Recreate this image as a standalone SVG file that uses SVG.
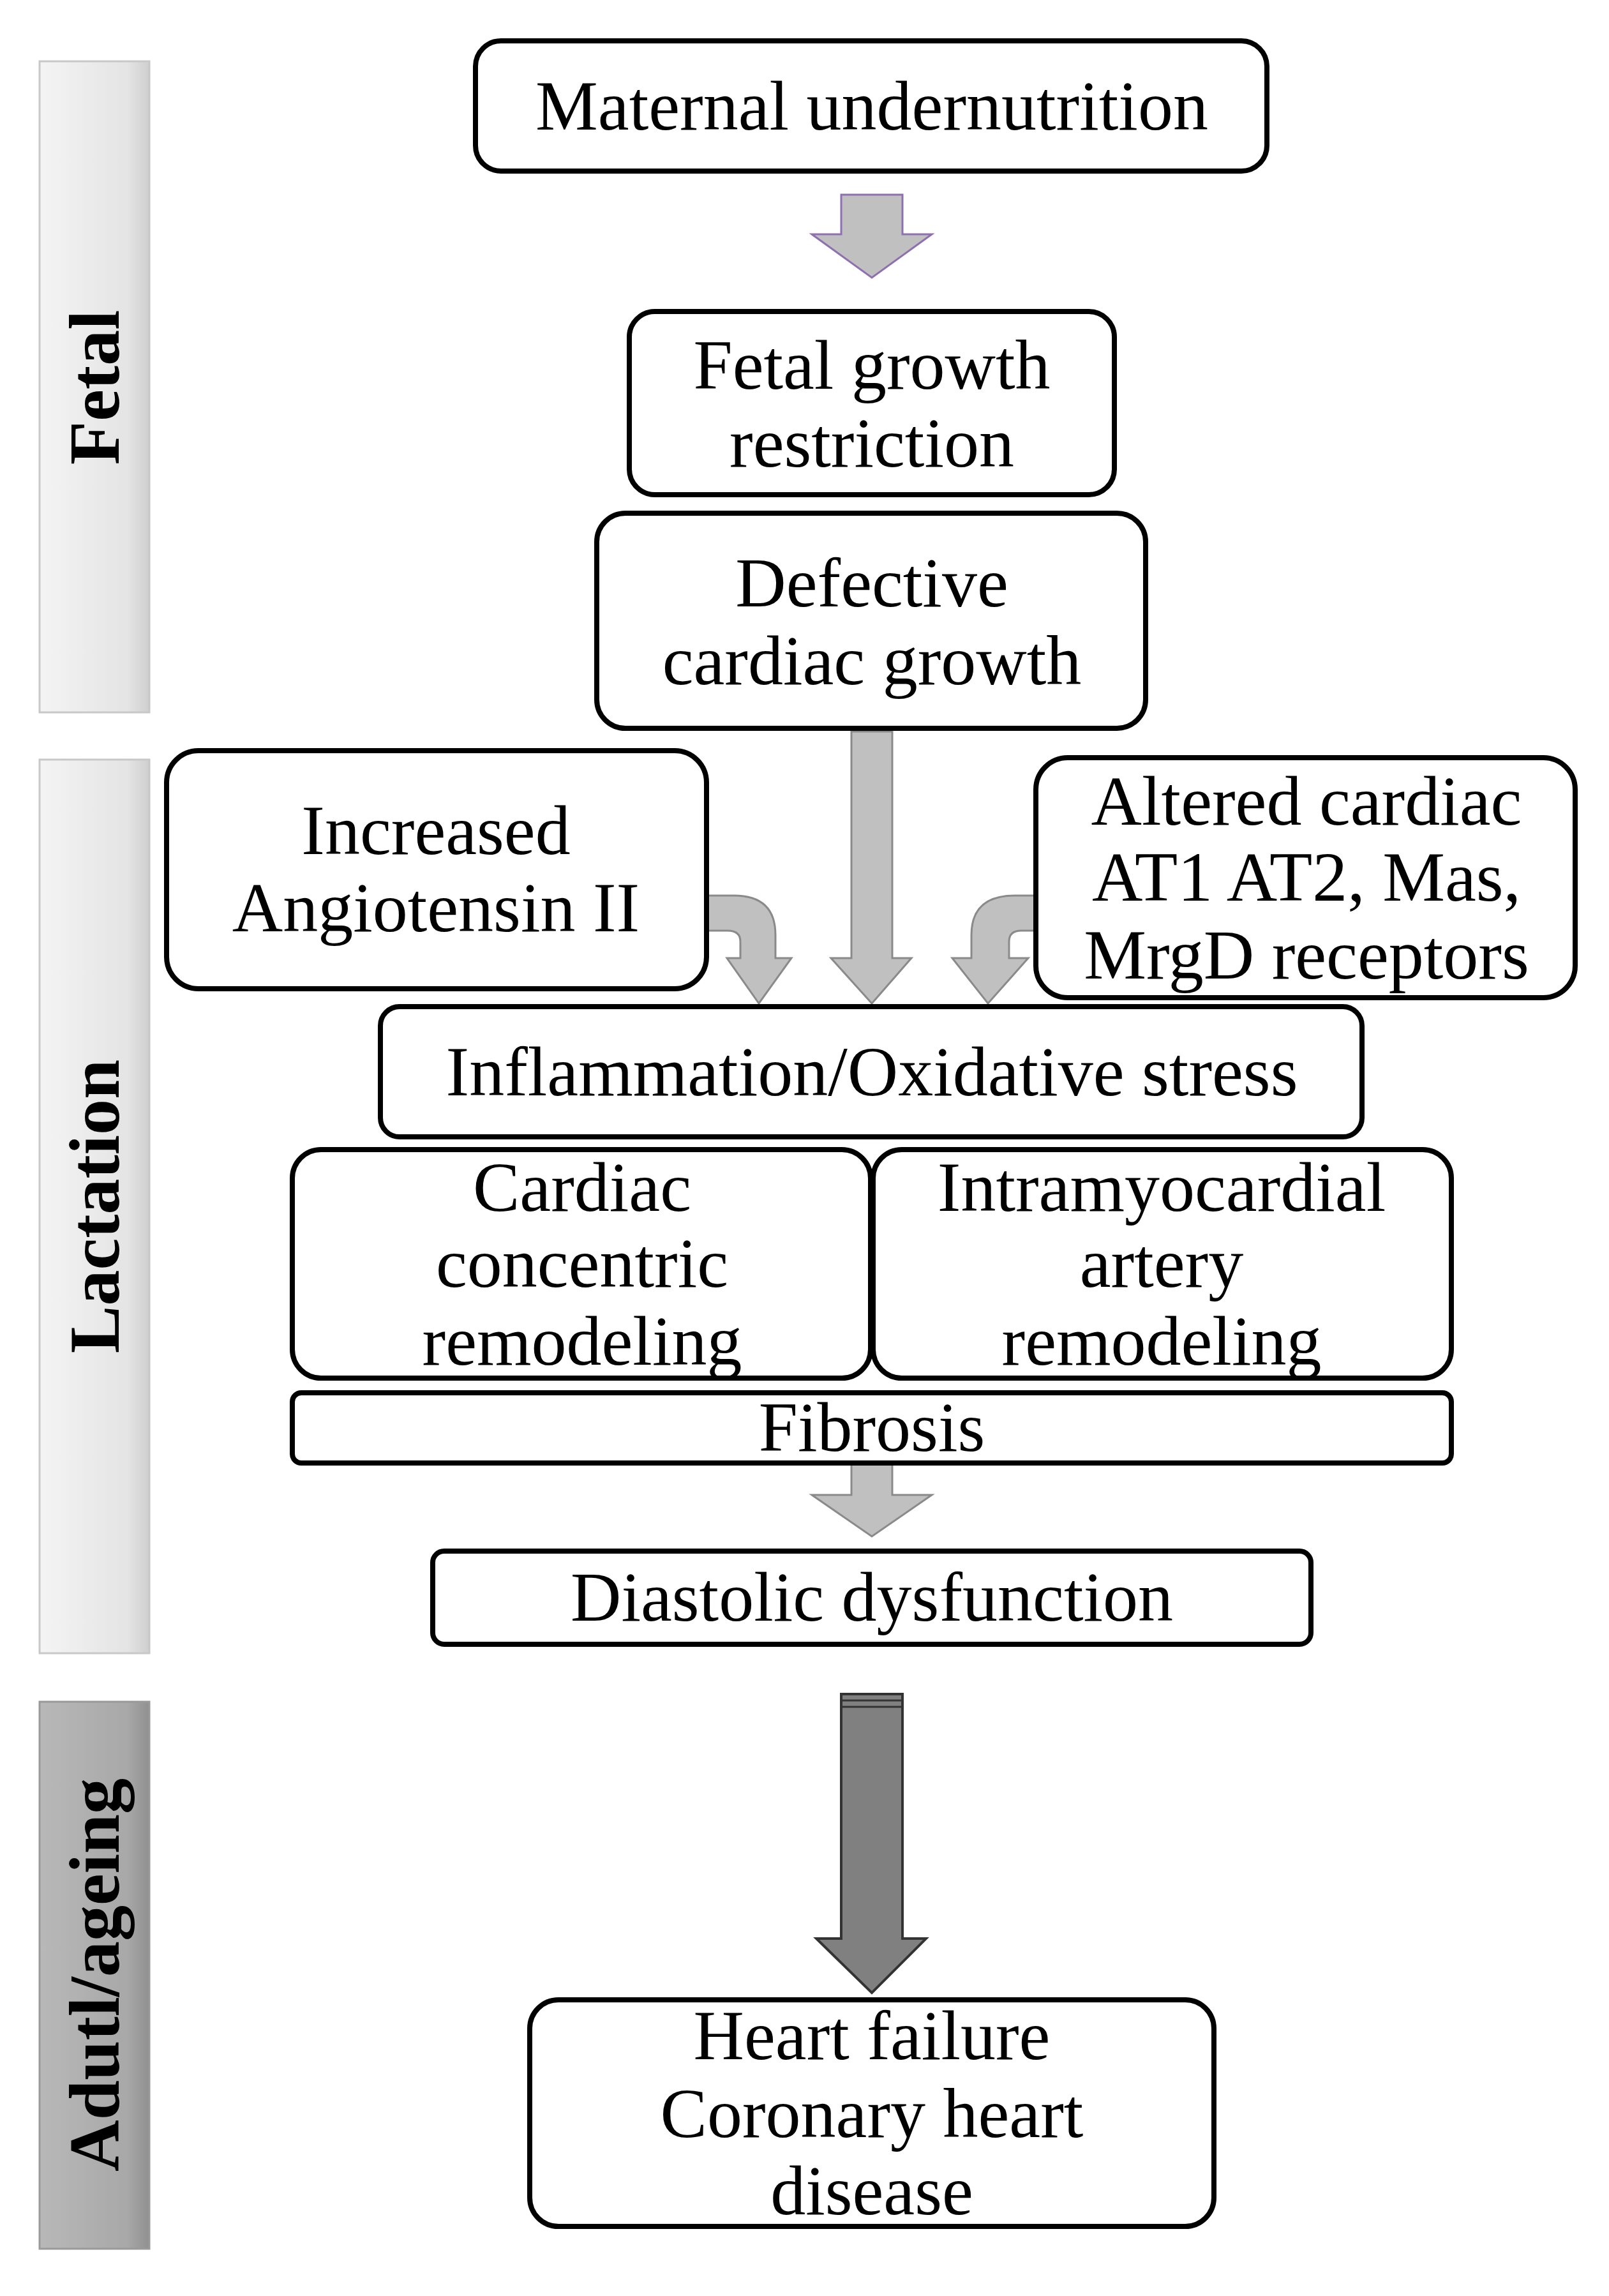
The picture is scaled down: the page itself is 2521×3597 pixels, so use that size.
<svg xmlns="http://www.w3.org/2000/svg" width="2521" height="3597" viewBox="0 0 2521 3597">
<defs>
<linearGradient id="bar" x1="0" y1="0" x2="1" y2="0"><stop offset="0" stop-color="#f4f4f4"/><stop offset="0.8" stop-color="#e4e4e4"/><stop offset="1" stop-color="#cfcfcf"/></linearGradient>
<linearGradient id="bar2" x1="0" y1="0" x2="1" y2="0"><stop offset="0" stop-color="#b8b8b8"/><stop offset="0.8" stop-color="#a8a8a8"/><stop offset="1" stop-color="#909090"/></linearGradient>
</defs>
<style>
.b{fill:#fff;stroke:#000;stroke-width:8}
.t{font-family:"Liberation Serif","DejaVu Serif",serif;font-size:110px;text-anchor:middle;fill:#000}
.s{font-family:"Liberation Serif","DejaVu Serif",serif;font-size:112px;font-weight:bold;text-anchor:middle;fill:#000}
.ar{fill:#c0c0c0;stroke:#8a8a8a;stroke-width:3}
</style>
<rect width="2521" height="3597" fill="#fff"/>
<g id="phases">
<rect x="62" y="96" width="172" height="1020" fill="url(#bar)" stroke="#c8c8c8" stroke-width="3"/>
<text class="s" transform="translate(186,607) rotate(-90)">Fetal</text>
<rect x="62" y="1190" width="172" height="1400" fill="url(#bar)" stroke="#c8c8c8" stroke-width="3"/>
<text class="s" transform="translate(186,1890) rotate(-90)">Lactation</text>
<rect x="62" y="2666" width="172" height="857" fill="url(#bar2)" stroke="#999" stroke-width="3"/>
<text class="s" transform="translate(186,3094) rotate(-90)">Adutl/ageing</text>
</g>
<g id="connectors">
<path d="M1318,305 H1414 V367 H1460 L1366,435 L1272,367 H1318 Z" fill="#c0c0c0" stroke="#8e6fb0" stroke-width="3"/>
<path class="ar" d="M1334,1146 H1398 V1501 H1428 L1366,1572 L1302,1501 H1334 Z"/>
<path class="ar" d="M1098,1403 H1150 Q1215,1403 1215,1465 V1501 H1240 L1189,1572 L1139,1501 H1160 V1475 Q1160,1458 1140,1458 H1098 Z"/>
<path class="ar" d="M1641,1403 H1590 Q1522,1403 1522,1465 V1501 H1492 L1548,1572 L1611,1501 H1581 V1475 Q1581,1458 1600,1458 H1641 Z"/>
<path class="ar" d="M1334,2292 H1398 V2342 H1460 L1366,2407 L1272,2342 H1334 Z"/>
<path d="M1318,2654 H1414 V3037 H1451 L1366,3122 L1279,3037 H1318 Z" fill="#808080" stroke="#333" stroke-width="4"/>
<path d="M1318,2664 H1414 M1318,2674 H1414" stroke="#333" stroke-width="3"/>
</g>
<g id="n1"><rect class="b" x="745" y="64" width="1240" height="204" rx="40"/><text class="t" x="1366" y="203">Maternal undernutrition</text></g>
<g id="n2"><rect class="b" x="986" y="488" width="760" height="287" rx="40"/><text class="t" x="1366" y="609">Fetal growth</text><text class="t" x="1366" y="731">restriction</text></g>
<g id="n3"><rect class="b" x="935" y="804" width="860" height="337" rx="45"/><text class="t" x="1366" y="950">Defective</text><text class="t" x="1366" y="1072">cardiac growth</text></g>
<g id="n4"><rect class="b" x="261" y="1176" width="846" height="373" rx="50"/><text class="t" x="683" y="1338">Increased</text><text class="t" x="683" y="1459">Angiotensin II</text></g>
<g id="n5"><rect class="b" x="1623" y="1187" width="845" height="376" rx="50"/><text class="t" x="2047" y="1292">Altered cardiac</text><text class="t" x="2047" y="1411">AT1 AT2, Mas,</text><text class="t" x="2047" y="1533">MrgD receptors</text></g>
<g id="n6"><rect class="b" x="596" y="1577" width="1538" height="204" rx="30"/><text class="t" x="1366" y="1716">Inflammation/Oxidative stress</text></g>
<g id="n7"><rect class="b" x="458" y="1801" width="906" height="358" rx="45"/><text class="t" x="912" y="1897">Cardiac</text><text class="t" x="912" y="2016">concentric</text><text class="t" x="912" y="2138">remodeling</text></g>
<g id="n8"><rect class="b" x="1368" y="1801" width="906" height="358" rx="45"/><text class="t" x="1820" y="1897">Intramyocardial</text><text class="t" x="1820" y="2016">artery</text><text class="t" x="1820" y="2138">remodeling</text></g>
<g id="n9"><rect class="b" x="458" y="2182" width="1816" height="110" rx="14"/><text class="t" x="1366" y="2273">Fibrosis</text></g>
<g id="n10"><rect class="b" x="678" y="2430" width="1376" height="146" rx="18"/><text class="t" x="1366" y="2539">Diastolic dysfunction</text></g>
<g id="n11"><rect class="b" x="830" y="3133" width="1072" height="355" rx="45"/><text class="t" x="1366" y="3226">Heart failure</text><text class="t" x="1366" y="3348">Coronary heart</text><text class="t" x="1366" y="3469">disease</text></g>
</svg>
